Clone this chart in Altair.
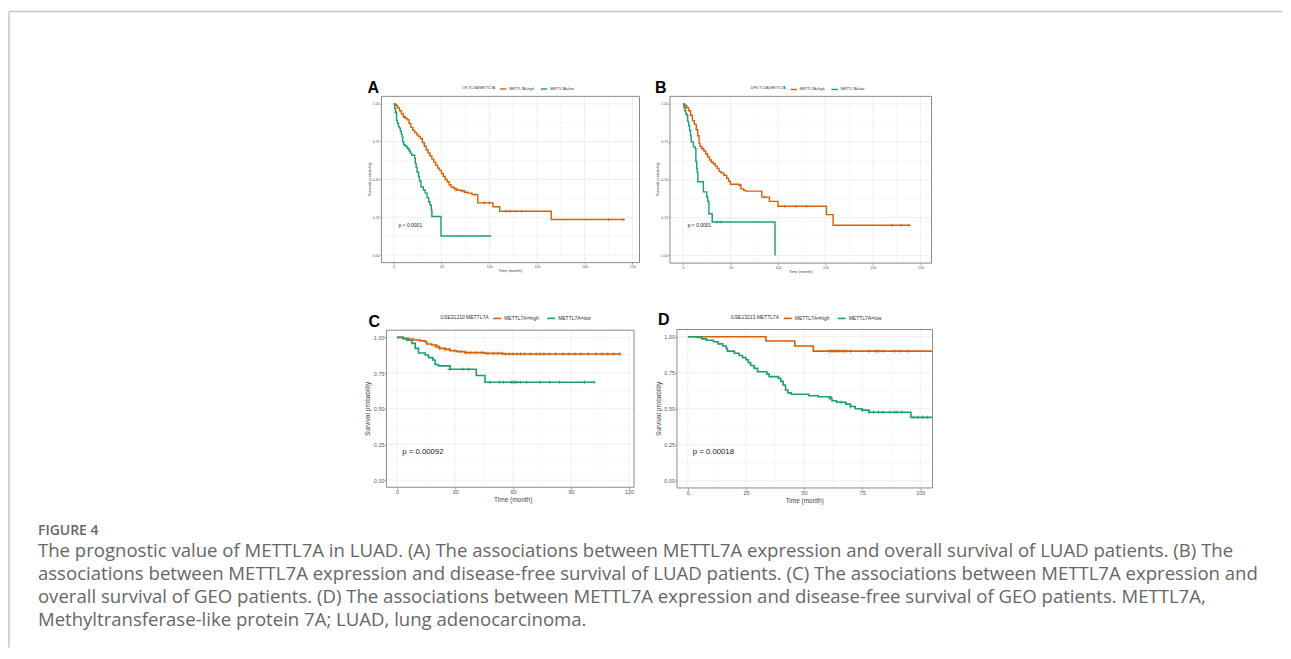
import altair as alt
import pandas as pd

FONT = "Liberation Sans"
HIGH_COLOR = "#D95F02"
LOW_COLOR = "#1B9E77"
GROUPS = ["METTL7A=high", "METTL7A=low"]

# ---------------- Panel A: OS TCGA ----------------
A_high_t = [0, 2, 4, 6, 8, 10, 12, 14, 16, 18, 20, 22, 24, 26, 28, 30, 32, 34, 36, 38,
            40, 42, 44, 46, 48, 50, 52, 54, 56, 58, 60, 63, 66, 70, 74, 78, 82, 88, 104, 111, 165, 242]
A_high_s = [1.0, 0.99, 0.975, 0.955, 0.935, 0.915, 0.905, 0.895, 0.87, 0.845, 0.825, 0.81, 0.795, 0.785,
            0.77, 0.745, 0.72, 0.695, 0.675, 0.655, 0.635, 0.615, 0.595, 0.575, 0.56, 0.54, 0.52, 0.5,
            0.485, 0.465, 0.45, 0.44, 0.43, 0.425, 0.415, 0.41, 0.4, 0.345, 0.32, 0.29, 0.235, 0.235]
A_low_t = [0, 1, 2, 3, 4, 5, 6, 7, 8, 8.7, 9.5, 10.5, 12, 14, 16, 17.4, 19, 22, 22.6, 23.5,
           24.4, 26, 27, 28.6, 31, 33, 35, 36.6, 38, 39.4, 40, 49.5, 102]
A_low_s = [1.0, 0.97, 0.945, 0.89, 0.87, 0.85, 0.84, 0.82, 0.8, 0.78, 0.75, 0.73, 0.72, 0.706, 0.69,
           0.673, 0.66, 0.64, 0.607, 0.58, 0.55, 0.52, 0.49, 0.45, 0.43, 0.41, 0.38, 0.353, 0.33,
           0.298, 0.255, 0.126, 0.126]
A_high_ct = [3, 11, 65, 72, 76, 85, 95, 100, 118, 122, 128, 134, 225, 240]
A_high_cs = [0.99, 0.915, 0.43, 0.425, 0.415, 0.4, 0.345, 0.345, 0.29, 0.29, 0.29, 0.29, 0.235, 0.235]
A_low_ct = [2, 15]
A_low_cs = [0.945, 0.706]

# ---------------- Panel B: DFS TCGA ----------------
B_high_t = [0, 2, 4, 6, 8, 10, 12, 14, 15.5, 17, 18, 20, 22, 24, 26, 28, 30, 32, 34, 36,
            38, 40, 43, 46, 48, 50, 59, 61, 64, 66, 83, 91, 100, 151, 158, 239]
B_high_s = [1.0, 0.99, 0.975, 0.955, 0.925, 0.89, 0.865, 0.83, 0.79, 0.74, 0.72, 0.705, 0.69, 0.67,
            0.65, 0.63, 0.615, 0.605, 0.59, 0.575, 0.555, 0.545, 0.53, 0.51, 0.49, 0.47, 0.465, 0.44,
            0.43, 0.425, 0.385, 0.357, 0.325, 0.27, 0.2, 0.2]
B_low_t = [0, 1, 2, 3, 4, 5, 6, 7, 8, 8.7, 11, 13, 13.6, 14.5, 15, 15.7, 21.5, 25, 26.2, 27.3, 30.8, 96.9]
B_low_s = [1.0, 0.98, 0.955, 0.935, 0.925, 0.885, 0.855, 0.825, 0.79, 0.75, 0.717, 0.706, 0.62, 0.575,
           0.55, 0.487, 0.42, 0.386, 0.357, 0.276, 0.221, 0.0]
B_high_ct = [3, 20, 60, 86, 107, 119, 130, 220, 230, 238]
B_high_cs = [0.975, 0.705, 0.465, 0.385, 0.325, 0.325, 0.325, 0.2, 0.2, 0.2]
B_low_ct = [36, 40]
B_low_cs = [0.221, 0.221]

# ---------------- Panel C: GSE31210 ----------------
C_high_t = [0, 3.4, 6, 8.6, 12, 14.6, 15.4, 18, 20.6, 22, 25, 27.4, 31, 35, 45.5, 55, 116]
C_high_s = [1.0, 0.993, 0.988, 0.981, 0.975, 0.968, 0.953, 0.946, 0.935, 0.923, 0.916, 0.906, 0.9,
            0.893, 0.888, 0.883, 0.883]
C_low_t = [0, 3, 5, 7.7, 9.4, 11.1, 14.6, 16.3, 18.5, 19.7, 21.4, 27.4, 41, 45.5, 102]
C_low_s = [1.0, 0.99, 0.98, 0.958, 0.923, 0.89, 0.876, 0.858, 0.841, 0.81, 0.8, 0.776, 0.733, 0.685, 0.685]
C_high_ct = [20, 22, 25, 27, 30, 33, 36, 38, 41, 44, 47, 50, 52, 54, 56, 58, 60, 62, 64, 66, 69, 72,
             74, 76, 79, 82, 86, 89, 92, 95, 99, 103, 106, 109, 112, 115]
C_high_cs = [0.935, 0.923, 0.916, 0.916, 0.906, 0.9, 0.893, 0.893, 0.893, 0.893, 0.888, 0.888, 0.888,
             0.888, 0.883, 0.883, 0.883, 0.883, 0.883, 0.883, 0.883, 0.883, 0.883, 0.883, 0.883, 0.883,
             0.883, 0.883, 0.883, 0.883, 0.883, 0.883, 0.883, 0.883, 0.883, 0.883]
C_low_ct = [27, 34, 37, 48, 53, 55, 59, 60, 61, 62, 64, 67, 74, 79, 84, 97, 102]
C_low_cs = [0.776, 0.776, 0.776, 0.685, 0.685, 0.685, 0.685, 0.685, 0.685, 0.685, 0.685, 0.685,
            0.685, 0.685, 0.685, 0.685, 0.685]

# ---------------- Panel D: GSE13213 ----------------
D_high_t = [0, 33.6, 46, 54, 105]
D_high_s = [1.0, 0.97, 0.935, 0.9, 0.9]
D_low_t = [0, 4, 6, 8, 11, 13, 15, 16.5, 17, 20, 22, 23.5, 25, 26, 27, 28.5, 30, 34, 35, 39,
           40, 41, 42, 43, 44.5, 52, 56, 61.5, 62, 64, 68, 70, 72, 75, 78, 96, 105]
D_low_s = [1.0, 0.995, 0.985, 0.975, 0.965, 0.95, 0.935, 0.92, 0.9, 0.885, 0.87, 0.855, 0.84, 0.82,
           0.8, 0.78, 0.757, 0.74, 0.723, 0.711, 0.69, 0.665, 0.63, 0.61, 0.6, 0.59, 0.583, 0.572,
           0.555, 0.545, 0.532, 0.515, 0.5, 0.49, 0.475, 0.44, 0.44]
D_high_ct = [61, 62, 63, 64, 65, 66, 67, 68, 70, 78, 81, 82, 84, 89, 91, 95]
D_high_cs = [0.9] * 16
D_low_ct = [61, 66, 70, 75, 78, 80, 82, 84, 87, 89, 90, 92, 97, 99, 101, 103]
D_low_cs = [0.572, 0.545, 0.515, 0.49, 0.475, 0.475, 0.475, 0.475, 0.475, 0.475, 0.475, 0.475,
            0.44, 0.44, 0.44, 0.44]

X_TITLE = "Time (month)"
Y_TITLE = "Survival probability"
CAPTION_HEAD = "FIGURE 4"
CAPTION_LINES = [
    "The prognostic value of METTL7A in LUAD. (A) The associations between METTL7A expression and overall survival of LUAD patients. (B) The",
    "associations between METTL7A expression and disease-free survival of LUAD patients. (C) The associations between METTL7A expression and",
    "overall survival of GEO patients. (D) The associations between METTL7A expression and disease-free survival of GEO patients. METTL7A,",
    "Methyltransferase-like protein 7A; LUAD, lung adenocarcinoma.",
]

W, H = 1275, 640


def curve_df(t, s, g):
    return pd.DataFrame({"t": t, "s": s, "g": g})


SMALL = dict(tick=3.6, title=4.0, leg=3.6, pv=5.0, lw=1.4, ts=1.5, lp=0.8, sym=40, cs=9, cp=3)
BIG = dict(tick=5.5, title=6.5, leg=5.0, pv=7.8, lw=1.6, ts=2.0, lp=0.4, sym=64, cs=14, cp=4)


def make_panel(high, low, high_c, low_c, legend_title, xdom, xrange, yrange, xmajor,
               pval, pval_xy, legend_xy, xt_xy, yt_xy, st):
    ydom = [-0.05, 1.05]
    curves = pd.concat([curve_df(*high, GROUPS[0]), curve_df(*low, GROUPS[1])])
    cens = pd.concat([curve_df(*high_c, GROUPS[0]), curve_df(*low_c, GROUPS[1])])
    minor = xmajor / 2
    xvals = [i * minor for i in range(int(xdom[1] // minor) + 1)]
    yvals = [i * 0.125 for i in range(9)]
    xtest = f"datum.value % {xmajor} === 0"
    ytest = "abs(datum.value * 4 - round(datum.value * 4)) < 0.000001"

    def axis(values, test, fmt, orient, offset):
        return alt.Axis(
            values=values, format=fmt, title=None, orient=orient, offset=offset,
            labelExpr=f"({test}) ? datum.label : ''",
            labelFont=FONT, labelFontSize=st["tick"], labelColor="#5a5a5a",
            labelPadding=st["lp"], labelOverlap=False, labelFlush=False,
            tickSize=st["ts"], tickColor="#666", tickWidth=0.6,
            tickOpacity={"condition": {"test": test, "value": 1}, "value": 0},
            domain=False, grid=False,
        )

    xscale = alt.Scale(domain=xdom, range=xrange, nice=False, zero=False)
    yscale = alt.Scale(domain=ydom, range=yrange, nice=False, zero=False)
    xaxis = axis(xvals, xtest, "d", "bottom", yrange[0] - H)
    yaxis = axis(yvals, ytest, ".2f", "left", -xrange[0])
    xenc = alt.X("t:Q", scale=xscale, axis=xaxis)
    yenc = alt.Y("s:Q", scale=yscale, axis=yaxis)
    cscale = alt.Scale(domain=GROUPS, range=[HIGH_COLOR, LOW_COLOR])

    # grid lines (major thicker, minor thinner) drawn through the panel scales
    vgrid = pd.DataFrame({"t": xvals, "s": [ydom[0]] * len(xvals), "s2": [ydom[1]] * len(xvals),
                          "w": [0.8 if v % xmajor == 0 else 0.4 for v in xvals]})
    hgrid = pd.DataFrame({"t": [xdom[0]] * len(yvals), "t2": [xdom[1]] * len(yvals), "s": yvals,
                          "w": [0.8 if (v * 4) % 1 == 0 else 0.4 for v in yvals]})
    gv = alt.Chart(vgrid).mark_rule(color="#ebebeb").encode(
        x=xenc, y=yenc, y2="s2:Q", strokeWidth=alt.StrokeWidth("w:Q", scale=None))
    gh = alt.Chart(hgrid).mark_rule(color="#ebebeb").encode(
        x=xenc, x2="t2:Q", y=yenc, strokeWidth=alt.StrokeWidth("w:Q", scale=None))

    legend = alt.Legend(
        orient="none", legendX=legend_xy[0], legendY=legend_xy[1], direction="horizontal",
        title=legend_title, titleOrient="left", titleFont=FONT, titleFontSize=st["leg"],
        titleFontWeight="normal", titleColor="#333", titlePadding=3,
        labelFont=FONT, labelFontSize=st["leg"], labelColor="#333", labelOffset=2,
        columnPadding=st["cp"], symbolType="stroke", symbolStrokeWidth=st["lw"],
        symbolSize=st["sym"], padding=0, labelLimit=300,
    )
    lines = alt.Chart(curves).mark_line(
        interpolate="step-after", strokeWidth=st["lw"]
    ).encode(x=xenc, y=yenc, color=alt.Color("g:N", scale=cscale, legend=legend))
    marks = alt.Chart(cens).mark_point(
        shape="M-1,0L1,0M0,-1L0,1", size=st["cs"], filled=False, strokeWidth=0.7, opacity=1
    ).encode(x=xenc, y=yenc, color=alt.Color("g:N", scale=cscale, legend=None))
    ptext = alt.Chart(pd.DataFrame({"t": [pval_xy[0]], "s": [pval_xy[1]], "label": [pval]})).mark_text(
        align="left", baseline="middle", font=FONT, fontSize=st["pv"], color="#222"
    ).encode(x=xenc, y=yenc, text="label:N")
    border = alt.Chart(pd.DataFrame({"t": [xdom[0]], "t2": [xdom[1]], "s": [ydom[0]], "s2": [ydom[1]]})).mark_rect(
        fill="transparent", stroke="#7d7d7d", strokeWidth=0.9
    ).encode(x=xenc, x2="t2:Q", y=yenc, y2="s2:Q")
    titles_df = pd.DataFrame({"label": [X_TITLE, Y_TITLE]})
    xtitle = alt.Chart(titles_df).transform_filter(f"datum.label == '{X_TITLE}'").mark_text(
        align="center", baseline="middle", font=FONT, fontSize=st["title"], color="#444"
    ).encode(x=alt.value(xt_xy[0]), y=alt.value(xt_xy[1]), text="label:N")
    ytitle = alt.Chart(titles_df).transform_filter(f"datum.label == '{Y_TITLE}'").mark_text(
        align="center", baseline="middle", font=FONT, fontSize=st["title"], color="#444", angle=270
    ).encode(x=alt.value(yt_xy[0]), y=alt.value(yt_xy[1]), text="label:N")
    return alt.layer(gv, gh, lines, marks, ptext, border, xtitle, ytitle)


panelA = make_panel((A_high_t, A_high_s), (A_low_t, A_low_s), (A_high_ct, A_high_cs), (A_low_ct, A_low_cs),
                    "OS TCGA METTL7A", [-12.86, 257.4], [373, 631.5], [254.5, 88], 50,
                    "p < 0.0001", (5, 0.2), (454, 76.5), (502, 263), (361.5, 171), SMALL)
panelB = make_panel((B_high_t, B_high_s), (B_low_t, B_low_s), (B_high_ct, B_high_cs), (B_low_ct, B_low_cs),
                    "DFS TCGA METTL7A", [-13.65, 261.6], [662, 924], [255, 88], 50,
                    "p < 0.0001", (5, 0.2), (743, 77), (793, 263.5), (650.5, 171), SMALL)
panelC = make_panel((C_high_t, C_high_s), (C_low_t, C_low_s), (C_high_ct, C_high_cs), (C_low_ct, C_low_cs),
                    "GSE31210 METTL7A", [-5.5, 122.6], [378, 626], [479.5, 322.2], 30,
                    "p = 0.00092", (2.7, 0.2), (432, 305), (505, 492.5), (359.5, 401), BIG)
panelD = make_panel((D_high_t, D_high_s), (D_low_t, D_low_s), (D_high_ct, D_high_cs), (D_low_ct, D_low_cs),
                    "GSE13213 METTL7A", [-4.7, 105.3], [669, 925], [480.2, 321.5], 25,
                    "p = 0.00018", (2.1, 0.2), (723, 305), (797, 493), (651, 401), BIG)

# panel letters
letters_df = pd.DataFrame({"l": ["A", "B", "C", "D"]})
letter_layers = [
    alt.Chart(letters_df).transform_filter(f"datum.l == '{c}'").mark_text(
        align="left", baseline="alphabetic", font=FONT, fontSize=16, fontWeight="bold", color="#000"
    ).encode(x=alt.value(px), y=alt.value(py), text="l:N")
    for c, px, py in [("A", 359, 85), ("B", 647, 85), ("C", 360, 319), ("D", 650, 317)]
]

# frame lines of the figure box
fdf = pd.DataFrame({"v": [0]})
frame_top = alt.Chart(fdf).mark_rule(color="#c4c4c4", strokeWidth=1.5).encode(
    x=alt.value(0), x2=alt.value(W), y=alt.value(3))
frame_left = alt.Chart(fdf).mark_rule(color="#c4c4c4", strokeWidth=1.5).encode(
    x=alt.value(0), y=alt.value(3), y2=alt.value(H))

# caption
ys = alt.Scale(domain=[0, 4], range=[520, 612])
head = alt.Chart(pd.DataFrame({"line": [0], "text": [CAPTION_HEAD]})).mark_text(
    align="left", baseline="middle", font="Open Sans", fontSize=14, fontWeight=600, color="#666", dy=3
).encode(x=alt.value(29), y=alt.Y("line:Q", scale=ys, axis=None), text="text:N")
body = alt.Chart(pd.DataFrame({"line": [1, 2, 3, 4], "text": CAPTION_LINES})).mark_text(
    align="left", baseline="middle", font="Open Sans", fontSize=18.6, color="#666666"
).encode(x=alt.value(29), y=alt.Y("line:Q", scale=ys, axis=None), text="text:N")
caption = alt.layer(head, body)

chart = alt.layer(
    panelA, panelB, panelC, panelD, caption, frame_top, frame_left, *letter_layers
).resolve_scale(
    x="independent", y="independent", color="independent"
).resolve_axis(
    x="independent", y="independent"
).resolve_legend(color="independent").properties(
    width=W, height=H, padding=0
).configure(font=FONT).configure_view(strokeWidth=0)

chart.save("out.html", embed_options={"renderer": "svg", "actions": False})
